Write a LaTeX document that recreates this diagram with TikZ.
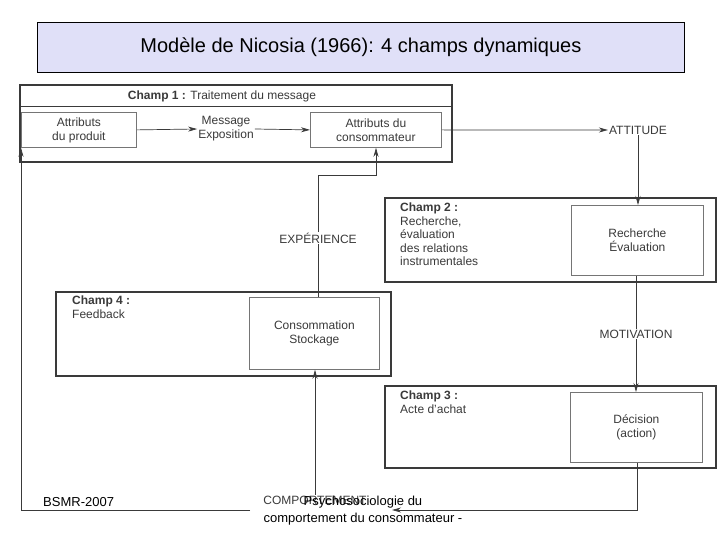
\documentclass[tikz,border=0pt]{standalone}
\usepackage{fontspec}
\setmainfont{Liberation Sans}
\usetikzlibrary{arrows.meta}
\definecolor{ink}{HTML}{3A3A3A}
\tikzset{
  outer/.style={draw=ink,line width=1.6pt},
  inner/.style={draw=ink!70,line width=0.8pt},
  lbl/.style={text=ink,font=\fontsize{12}{14}\selectfont,align=center,inner sep=1pt},
  ttl/.style={text=ink,font=\fontsize{12}{13.5}\selectfont,align=left,anchor=north west,inner sep=0pt},
  conn/.style={draw=ink,line width=0.7pt,-{Stealth[length=9pt,width=5pt]}},
  plain/.style={draw=ink,line width=0.7pt},
}
\begin{document}
\begin{tikzpicture}[x=1pt,y=-1pt]
\useasboundingbox (0,0) rectangle (720,540);
\fill[white] (0,0) rectangle (720,540);
% title
\node[draw=black,fill={rgb,255:red,224;green,224;blue,248},line width=0.8pt,minimum width=647pt,minimum height=50pt,anchor=north west,font=\fontsize{20}{24}\selectfont] (title) at (37,22) {Modèle de Nicosia (1966): 4 champs dynamiques};
% champ 1
\draw[outer] (20,85) rectangle (452,162);
\draw[plain] (20,106) -- (452,106);
\node[lbl] (c1t) at (222,96) {\textbf{Champ 1 :} Traitement du message};
\node[inner,lbl,minimum width=115pt,minimum height=35pt,anchor=north west] (prod) at (21,112) {Attributs\\du produit};
\node[lbl] (msg) at (226,129) {Message\\Exposition};
\node[inner,lbl,minimum width=131pt,minimum height=35pt,anchor=north west] (cons) at (310,112) {Attributs du\\consommateur};
\node[lbl] (att) at (638,130) {ATTITUDE};
% champ 2
\draw[outer] (385,198) rectangle (716,282);
\node[ttl] (c2t) at (400,203) {\textbf{Champ 2 :}\\Recherche,\\évaluation\\des relations\\instrumentales};
\node[inner,lbl,minimum width=132pt,minimum height=70pt,anchor=north west] (rech) at (571,205) {Recherche\\Évaluation};
\node[lbl] (mot) at (636,334) {MOTIVATION};
% champ 3
\draw[outer] (385,386) rectangle (716,468);
\node[ttl] (c3t) at (400,391) {\textbf{Champ 3 :}\\Acte d'achat};
\node[inner,lbl,minimum width=132pt,minimum height=70pt,anchor=north west] (dec) at (570,392) {Décision\\(action)};
% champ 4
\draw[outer] (56,292) rectangle (391,376);
\node[ttl] (c4t) at (72,296) {\textbf{Champ 4 :}\\Feedback};
\node[inner,lbl,minimum width=130pt,minimum height=72pt,anchor=north west] (stock) at (249,297) {Consommation\\Stockage};
\node[lbl] (exp) at (318,238) {EXPÉRIENCE};
\node[lbl] (comp) at (315,500) {COMPORTEMENT};
\coordinate (e1) at (316,175);
\coordinate (e2) at (376,175);
\coordinate (d1) at (637,510);
\coordinate (d2) at (392,510);
\coordinate (l1) at (250,510);
\coordinate (l2) at (21,510);
% connectors
\draw[conn] (prod.east) -- (msg.west);
\draw[conn] (msg.east) -- (cons.west);
\draw[conn] (cons.east) -- (att.west);
\draw[conn] (att.south) -- (att.south |- rech.north);
\draw[plain] (rech.south -| mot) -- (mot.north);
\draw[conn] (mot.south) -- (dec.north -| mot);
\draw[plain] (stock.north -| exp) -- (exp.south);
\draw[conn] (exp.north) |- (e2) -- (cons.south -| e2);
\draw[conn] (comp.north) -- (stock.south -| comp);
\draw[conn] (dec.south -| d1) -- (d1) -- (d2);
\draw[conn] (l1) -- (l2) -- (prod.south west -| l2);
% footer
\node[font=\fontsize{13}{15}\selectfont,anchor=west,inner sep=0pt] (bsmr) at (43,502) {BSMR-2007};
\node[font=\fontsize{13}{17}\selectfont,align=center,inner sep=0pt] (foot) at (363,511) {Psychosociologie du\\comportement du consommateur -};
\end{tikzpicture}
\end{document}
